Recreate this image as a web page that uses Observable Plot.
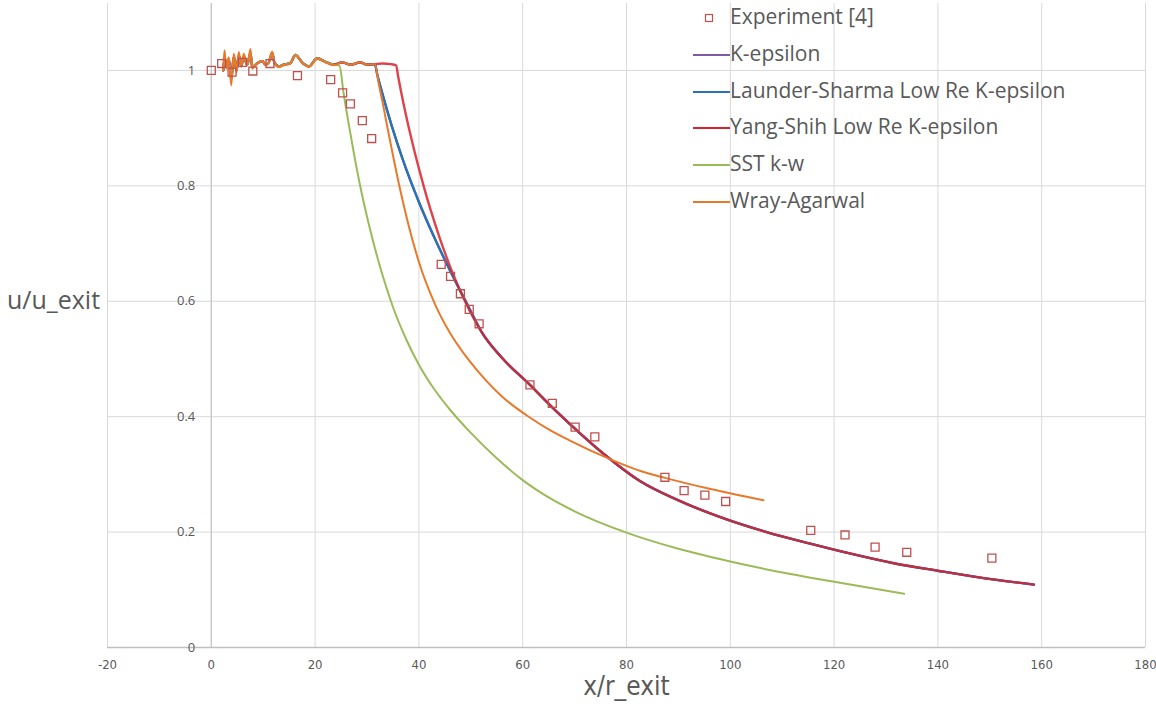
<!DOCTYPE html>
<html><head><meta charset="utf-8">
<script src="https://cdn.jsdelivr.net/npm/d3@7"></script>
<script src="https://cdn.jsdelivr.net/npm/@observablehq/plot@0.6"></script>
<style>
body{margin:0;background:#fff;}
#wrap{position:relative;width:1156px;height:706px;overflow:hidden;}
#legend{position:absolute;left:0;top:0;width:1156px;height:706px;pointer-events:none;font-family:"Open Sans",sans-serif;font-size:21px;color:#595959;}
.item{position:absolute;white-space:nowrap;line-height:1;}
</style></head><body><div id="wrap"></div>
<script>
// ---------- tick labels ----------
const xTicks = [-20, 0, 20, 40, 60, 80, 100, 120, 140, 160, 180];
const yTicks = [0, 0.2, 0.4, 0.6, 0.8, 1];
const yTickLabels = ["0", "0.2", "0.4", "0.6", "0.8", "1"];

// ---------- experiment [4] ----------
const expX = [0, 2, 4, 6, 8, 11.3, 16.6, 23.0, 25.3, 26.8, 29.1, 30.9, 44.3, 46.1, 48.0, 49.7, 51.6, 61.4, 65.7, 70.1, 73.9, 87.4, 91.1, 95.1, 99.1, 115.5, 122.1, 127.9, 134.0, 150.4];
const expY = [1.0, 1.012, 0.997, 1.014, 0.999, 1.012, 0.991, 0.984, 0.961, 0.942, 0.913, 0.882, 0.664, 0.643, 0.613, 0.586, 0.561, 0.455, 0.423, 0.382, 0.365, 0.295, 0.272, 0.264, 0.253, 0.203, 0.195, 0.174, 0.165, 0.155];

// ---------- common noisy near-field part ----------
const startX = [2.3, 2.54, 2.93, 3.37, 3.83, 4.34, 4.86, 5.30, 5.76, 6.26, 6.92, 7.55, 7.88, 8.52, 9.15, 9.81, 10.47, 11.08, 11.73, 12.18, 13.0, 13.97, 15.26, 16.2, 17.6, 18.8, 20.4, 22.0, 23.6];
const wrayStartY = [1.0, 1.035, 1.003, 1.023, 0.974, 1.029, 0.997, 1.032, 1.006, 1.029, 1.009, 1.037, 1.003, 1.009, 1.014, 1.017, 1.009, 1.014, 1.033, 1.012, 1.006, 1.009, 1.012, 1.026, 1.012, 1.006, 1.020, 1.014, 1.009];
const modelStartY = [1.0, 1.02, 1.008, 1.02, 0.985, 1.024, 1.0, 1.026, 1.008, 1.024, 1.01, 1.03, 1.006, 1.01, 1.014, 1.016, 1.01, 1.014, 1.03, 1.013, 1.007, 1.01, 1.013, 1.027, 1.013, 1.007, 1.021, 1.015, 1.01];
const plateauX = [25.2, 26.8, 28.7, 30.0, 31.5];
const plateauY = [1.014, 1.010, 1.014, 1.010, 1.011];

// ---------- far field shared by the k-epsilon family ----------
const farX = [52, 56, 61.4, 65.7, 69, 75.4, 82.5, 90, 99.3, 107, 115.4, 123, 131.5, 140, 147.6, 158.5];
const farY = [0.548, 0.502, 0.455, 0.416, 0.388, 0.337, 0.289, 0.255, 0.222, 0.2, 0.18, 0.163, 0.146, 0.133, 0.122, 0.109];

// ---------- K-epsilon ----------
const kEpsDropX = [32.0, 32.9, 34.8, 36.8, 40.0, 43.2, 46.4, 49.7];
const kEpsDropY = [0.992, 0.962, 0.903, 0.848, 0.772, 0.706, 0.646, 0.588];

// ---------- Launder-Sharma ----------
const lsDropX = [32.0, 32.9, 34.8, 36.8, 40.0, 43.2, 46.4, 49.7];
const lsDropY = [0.992, 0.962, 0.903, 0.848, 0.772, 0.706, 0.646, 0.588];

// ---------- Yang-Shih ----------
const ysDropX = [33.0, 34.5, 35.6, 36.0, 36.5, 37.0, 38.0, 39.0, 40.0, 41.0, 42.2, 44.0, 46.4, 49.7];
const ysDropY = [1.012, 1.011, 1.009, 0.99, 0.966, 0.944, 0.903, 0.865, 0.83, 0.797, 0.76, 0.71, 0.651, 0.585];

// ---------- SST k-w ----------
const sstX = [24.7, 25.5, 26.5, 27.5, 28.5, 29.5, 31, 33, 35, 37.5, 40, 43, 46, 50, 55, 60, 65, 70, 80, 90, 100, 110, 120, 133.5];
const sstY = [1.008, 0.96, 0.906, 0.855, 0.808, 0.766, 0.71, 0.645, 0.59, 0.535, 0.49, 0.447, 0.412, 0.372, 0.328, 0.29, 0.26, 0.236, 0.199, 0.171, 0.149, 0.13, 0.114, 0.093];

// ---------- Wray-Agarwal ----------
const waX = [32.3, 33.0, 33.7, 35, 36.3, 37.7, 40, 43.2, 46, 49.7, 53, 56, 61.3, 65, 69, 76.7, 83, 87.4, 96, 106.4];
const waY = [0.975, 0.945, 0.912, 0.853, 0.797, 0.743, 0.668, 0.593, 0.545, 0.497, 0.462, 0.435, 0.399, 0.378, 0.359, 0.327, 0.305, 0.294, 0.275, 0.255];

const seriesNames = ["Experiment [4]", "K-epsilon", "Launder-Sharma Low Re K-epsilon", "Yang-Shih Low Re K-epsilon", "SST k-w", "Wray-Agarwal"];
const seriesColors = ["#c0504d", "#7b5aa6", "#2a72b5", "#d8222c", "#9bbb59", "#e8792b"];

function rows(xs, ys) { return xs.map((x, i) => ({x, y: ys[i]})); }
const cat = (...a) => [].concat(...a);

const kEps = rows(cat(startX, plateauX, kEpsDropX, farX), cat(modelStartY, plateauY, kEpsDropY, farY));
const ls = rows(cat(startX, plateauX, lsDropX, farX), cat(modelStartY, plateauY, lsDropY, farY));
const ys = rows(cat(startX, plateauX, ysDropX, farX), cat(modelStartY, plateauY, ysDropY, farY));
const sst = rows(cat(startX, sstX), cat(modelStartY, sstY));
const wa = rows(cat(startX, plateauX, waX), cat(wrayStartY, plateauY, waY));
const exp = rows(expX, expY);

const tickFont = `"Liberation Sans Narrow", "DejaVu Sans Condensed", "Liberation Sans", sans-serif`;
const gridC = "#d9d9d9";

const chart = Plot.plot({
  width: 1156, height: 706,
  marginLeft: 107, marginRight: 11, marginTop: 3, marginBottom: 59,
  x: {domain: [-20, 180], axis: null},
  y: {domain: [0, 1.116], axis: null},
  style: {background: "transparent"},
  marks: [
    Plot.ruleX(xTicks, {stroke: gridC, strokeWidth: 1}),
    Plot.ruleY(yTicks.filter(d => d > 0), {stroke: gridC, strokeWidth: 1}),
    Plot.ruleX([0], {stroke: "#c4c4c4", strokeWidth: 1.2}),
    Plot.ruleY([0], {stroke: "#bfbfbf", strokeWidth: 1.5}),
    Plot.text(xTicks, {x: d => d, frameAnchor: "bottom", dy: 21, text: d => String(d), fill: "#595959", fontSize: 13, fontFamily: tickFont}),
    Plot.text(yTicks, {x: () => 0, y: d => d, dx: -16, text: (d, i) => yTickLabels[i], textAnchor: "end", fill: "#595959", fontSize: 13, fontFamily: `"Open Sans", sans-serif`}),
    Plot.text(["x/r_exit"], {frameAnchor: "bottom", dy: 47, text: d => d, fill: "#595959", fontSize: 26, fontFamily: tickFont}),
    Plot.text(["u/u_exit"], {frameAnchor: "left", textAnchor: "middle", dx: -54, dy: -25, text: d => d, fill: "#595959", fontSize: 25, fontFamily: `"Open Sans", sans-serif`}),
    Plot.line(kEps, {x: "x", y: "y", stroke: seriesColors[1], strokeWidth: 2.2, curve: "monotone-x"}),
    Plot.line(ls, {x: "x", y: "y", stroke: seriesColors[2], strokeWidth: 2.4, curve: "monotone-x"}),
    Plot.line(ys, {x: "x", y: "y", stroke: seriesColors[3], strokeWidth: 2.4, strokeOpacity: 0.85, curve: "monotone-x"}),
    Plot.line(sst, {x: "x", y: "y", stroke: seriesColors[4], strokeWidth: 2, curve: "monotone-x"}),
    Plot.line(wa, {x: "x", y: "y", stroke: seriesColors[5], strokeWidth: 2, curve: "monotone-x"}),
    Plot.dot(exp, {x: "x", y: "y", symbol: "square", r: 4.5, stroke: seriesColors[0], strokeWidth: 1.3, fill: "none"})
  ]
});

const wrap = document.getElementById("wrap");
wrap.appendChild(chart);

// ---------- legend (HTML overlay inside the plot area) ----------
const legend = document.createElement("div");
legend.id = "legend";
seriesNames.forEach((name, i) => {
  const cy = 18 + i * 36.8;
  const sym = document.createElementNS("http://www.w3.org/2000/svg", "svg");
  sym.setAttribute("width", 40); sym.setAttribute("height", 14);
  sym.style.position = "absolute"; sym.style.left = "692px"; sym.style.top = (cy - 7) + "px";
  if (i === 0) {
    sym.innerHTML = `<rect x="13.5" y="3.5" width="7" height="7" fill="none" stroke="${seriesColors[0]}" stroke-width="1.2"/>`;
  } else {
    sym.innerHTML = `<line x1="1" x2="38" y1="7" y2="7" stroke="${seriesColors[i]}" stroke-width="2"/>`;
  }
  legend.appendChild(sym);
  const t = document.createElement("div");
  t.className = "item";
  t.textContent = name;
  t.style.left = "730px";
  t.style.top = (cy - 12) + "px";
  legend.appendChild(t);
});
wrap.appendChild(legend);
</script>
</body></html>
